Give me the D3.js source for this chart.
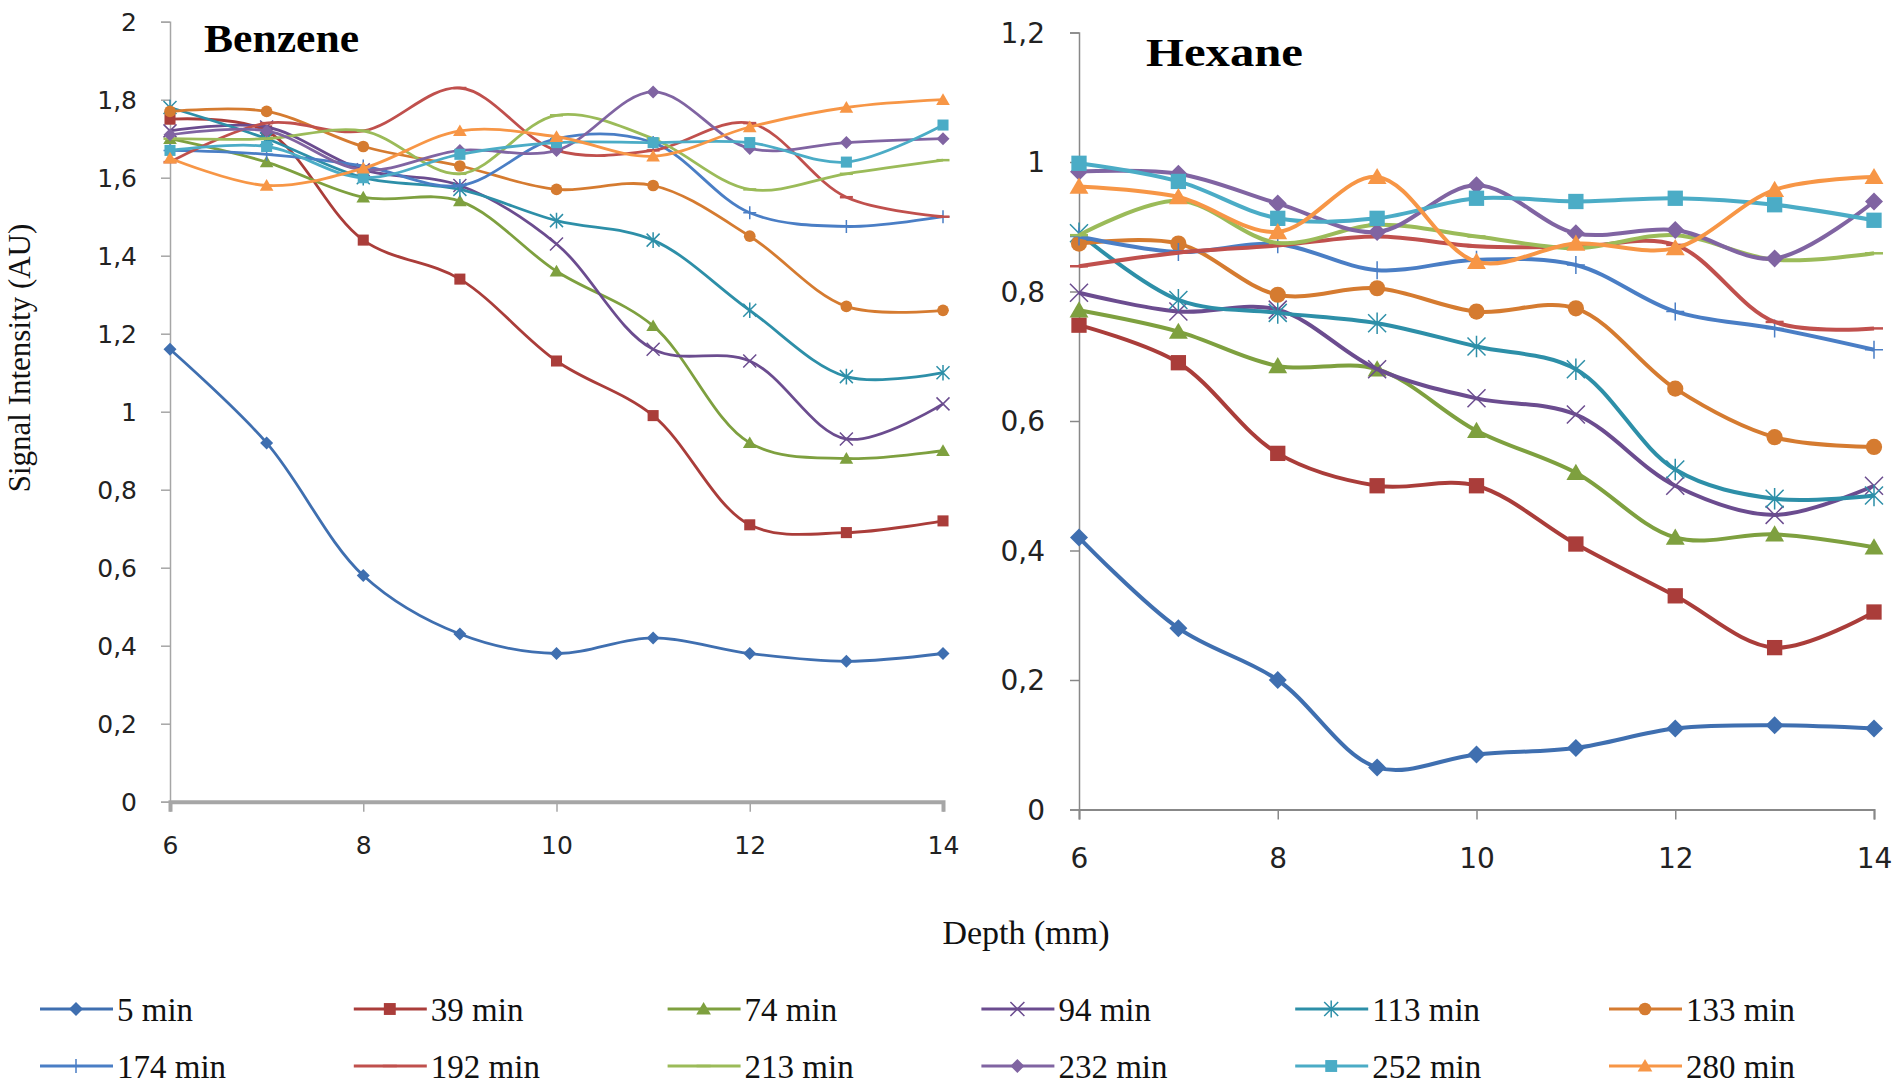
<!DOCTYPE html>
<html><head><meta charset="utf-8">
<script src="https://cdn.jsdelivr.net/npm/d3@7"></script>
<style>body{margin:0;background:#fff} svg{display:block}</style>
</head><body>
<svg id="chart" width="1901" height="1088"></svg>
<script>
// ---------- data ----------
const depths = [6, 7, 8, 9, 10, 11, 12, 13, 14];
const seriesNames = ["5 min","39 min","74 min","94 min","113 min","133 min","174 min","192 min","213 min","232 min","252 min","280 min"];
const seriesColors = ["#3F6FB0","#AA3D3A","#7EA03F","#6B4C8F","#2D8FA8","#D57B30","#4A7EC5","#C0504D","#9BBB59","#8064A2","#4BACC6","#F79646"];
const seriesMarkers = ["diamond","square","triangle","x","star","circle","plus","dash","dash","diamond","square","triangle"];

// Benzene
const benzene5   = [1.16, 0.92, 0.58, 0.43, 0.38, 0.42, 0.38, 0.36, 0.38];
const benzene39  = [1.75, 1.72, 1.44, 1.34, 1.13, 0.99, 0.71, 0.69, 0.72];
const benzene74  = [1.70, 1.64, 1.55, 1.54, 1.36, 1.22, 0.92, 0.88, 0.90];
const benzene94  = [1.72, 1.73, 1.62, 1.58, 1.43, 1.16, 1.13, 0.93, 1.02];
const benzene113 = [1.78, 1.70, 1.60, 1.57, 1.49, 1.44, 1.26, 1.09, 1.10];
const benzene133 = [1.77, 1.77, 1.68, 1.63, 1.57, 1.58, 1.45, 1.27, 1.26];
const benzene174 = [1.67, 1.66, 1.63, 1.58, 1.70, 1.69, 1.51, 1.475, 1.50];
const benzene192 = [1.64, 1.74, 1.72, 1.83, 1.67, 1.67, 1.74, 1.55, 1.50];
const benzene213 = [1.70, 1.70, 1.72, 1.61, 1.76, 1.70, 1.57, 1.61, 1.645];
const benzene232 = [1.71, 1.72, 1.62, 1.67, 1.67, 1.82, 1.675, 1.69, 1.70];
const benzene252 = [1.67, 1.68, 1.60, 1.66, 1.69, 1.69, 1.69, 1.64, 1.735];
const benzene280 = [1.65, 1.58, 1.624, 1.72, 1.705, 1.655, 1.73, 1.78, 1.80];
const benzeneSeries = [benzene5, benzene39, benzene74, benzene94, benzene113, benzene133,
                       benzene174, benzene192, benzene213, benzene232, benzene252, benzene280];

// Hexane
const hexane5   = [0.42, 0.28, 0.20, 0.065, 0.085, 0.095, 0.125, 0.13, 0.125];
const hexane39  = [0.748, 0.69, 0.55, 0.50, 0.50, 0.41, 0.33, 0.25, 0.305];
const hexane74  = [0.771, 0.738, 0.685, 0.68, 0.585, 0.52, 0.42, 0.425, 0.405];
const hexane94  = [0.798, 0.769, 0.772, 0.68, 0.635, 0.61, 0.50, 0.455, 0.50];
const hexane113 = [0.89, 0.787, 0.767, 0.751, 0.715, 0.68, 0.525, 0.48, 0.485];
const hexane133 = [0.874, 0.874, 0.795, 0.805, 0.769, 0.774, 0.65, 0.575, 0.56];
const hexane174 = [0.885, 0.861, 0.873, 0.833, 0.849, 0.841, 0.769, 0.743, 0.71];
const hexane192 = [0.839, 0.86, 0.871, 0.885, 0.870, 0.869, 0.872, 0.753, 0.743];
const hexane213 = [0.887, 0.94, 0.875, 0.903, 0.885, 0.867, 0.887, 0.849, 0.859];
const hexane232 = [0.985, 0.982, 0.936, 0.892, 0.964, 0.89, 0.895, 0.851, 0.939];
const hexane252 = [0.998, 0.97, 0.913, 0.913, 0.944, 0.939, 0.944, 0.934, 0.91];
const hexane280 = [0.962, 0.946, 0.892, 0.977, 0.846, 0.874, 0.867, 0.957, 0.977];
const hexaneSeries = [hexane5, hexane39, hexane74, hexane94, hexane113, hexane133,
                      hexane174, hexane192, hexane213, hexane232, hexane252, hexane280];

const xTickValues = [6, 8, 10, 12, 14];
const xTickLabels = ["6", "8", "10", "12", "14"];
const benzeneYTicks = [0, 0.2, 0.4, 0.6, 0.8, 1, 1.2, 1.4, 1.6, 1.8, 2];
const benzeneYLabels = ["0","0,2","0,4","0,6","0,8","1","1,2","1,4","1,6","1,8","2"];
const hexaneYTicks = [0, 0.2, 0.4, 0.6, 0.8, 1, 1.2];
const hexaneYLabels = ["0","0,2","0,4","0,6","0,8","1","1,2"];

// ---------- drawing ----------
const svg = d3.select("#chart");

function drawMarker(g, type, x, y, s, color) {
  const m = g.append("g").attr("transform", `translate(${x},${y})`);
  switch (type) {
    case "diamond":
      m.append("path").attr("d", `M0,${-s}L${s},0L0,${s}L${-s},0Z`).attr("fill", color);
      break;
    case "square":
      m.append("rect").attr("x", -s*0.85).attr("y", -s*0.85).attr("width", s*1.7).attr("height", s*1.7).attr("fill", color);
      break;
    case "triangle":
      m.append("path").attr("d", `M0,${-s}L${s*1.05},${s*0.8}L${-s*1.05},${s*0.8}Z`).attr("fill", color);
      break;
    case "circle":
      m.append("circle").attr("r", s*0.9).attr("fill", color);
      break;
    case "x":
      m.append("path").attr("d", `M${-s},${-s}L${s},${s}M${-s},${s}L${s},${-s}`).attr("stroke", color).attr("stroke-width", 1.5).attr("fill", "none");
      break;
    case "star":
      m.append("path").attr("d", `M${-s},${-s}L${s},${s}M${-s},${s}L${s},${-s}M0,${-s*1.2}L0,${s*1.2}`).attr("stroke", color).attr("stroke-width", 1.5).attr("fill", "none");
      break;
    case "plus":
      m.append("path").attr("d", `M${-s},0L${s},0M0,${-s}L0,${s}`).attr("stroke", color).attr("stroke-width", 1.5).attr("fill", "none");
      break;
    case "dash":
      m.append("path").attr("d", `M${-s},0L${s},0`).attr("stroke", color).attr("stroke-width", 2.5).attr("fill", "none");
      break;
  }
}

function drawPanel(opts) {
  const { series, xRange, yRange, yMax, yTicks, yLabels, lineW, markerS, title, titleX, titleY, titleW,
          axisColor, xAxisW, labelSize, labelYX, labelXY } = opts;
  const x = d3.scaleLinear().domain([6, 14]).range(xRange);
  const y = d3.scaleLinear().domain([0, yMax]).range(yRange);
  const g = svg.append("g");

  // y axis
  const ya = d3.axisLeft(y).tickValues(yTicks).tickFormat((d, i) => yLabels[i]).tickSize(9).tickPadding(0);
  const yag = g.append("g").attr("transform", `translate(${xRange[0]},0)`).call(ya);
  yag.select(".domain").attr("stroke", axisColor).attr("stroke-width", 1.5);
  yag.selectAll(".tick line").attr("stroke", axisColor).attr("stroke-width", 1.5);
  yag.selectAll(".tick text").attr("x", -labelYX).attr("dy", "0.35em")
     .attr("font-family", "DejaVu Sans, Verdana, sans-serif").attr("font-size", labelSize).attr("fill", "#222");

  // x axis
  const xa = d3.axisBottom(x).tickValues(xTickValues).tickFormat((d, i) => xTickLabels[i]).tickSize(10).tickPadding(0);
  const xag = g.append("g").attr("transform", `translate(0,${yRange[0]})`).call(xa);
  xag.select(".domain").attr("stroke", axisColor).attr("stroke-width", xAxisW);
  xag.selectAll(".tick line").attr("stroke", axisColor).attr("stroke-width", 1.5);
  xag.selectAll(".tick text").attr("y", labelXY).attr("dy", "0.35em")
     .attr("font-family", "DejaVu Sans, Verdana, sans-serif").attr("font-size", labelSize).attr("fill", "#222");

  // lines
  const line = d3.line().x((d, i) => x(depths[i])).y(d => y(d)).curve(d3.curveCatmullRom.alpha(0.5));
  series.forEach((vals, si) => {
    const sg = g.append("g");
    sg.append("path").attr("d", line(vals)).attr("fill", "none")
      .attr("stroke", seriesColors[si]).attr("stroke-width", lineW).attr("stroke-linejoin", "round");
    vals.forEach((v, i) => drawMarker(sg, seriesMarkers[si], x(depths[i]), y(v), markerS, seriesColors[si]));
  });

  g.append("text").attr("x", titleX).attr("y", titleY).text(title)
    .attr("textLength", titleW).attr("lengthAdjust", "spacingAndGlyphs")
    .attr("font-family", "Liberation Serif, Times New Roman, serif").attr("font-weight", "bold")
    .attr("font-size", 41).attr("fill", "#000");
}

drawPanel({
  series: benzeneSeries, xRange: [170, 943], yRange: [801.7, 21.7], yMax: 2,
  yTicks: benzeneYTicks, yLabels: benzeneYLabels, lineW: 2.8, markerS: 6.5,
  title: "Benzene", titleX: 204, titleY: 52, titleW: 155, axisColor: "#a6a6a6", xAxisW: 4,
  labelSize: 25, labelYX: 33, labelXY: 44
});

drawPanel({
  series: hexaneSeries, xRange: [1079, 1874], yRange: [809.5, 32.5], yMax: 1.2,
  yTicks: hexaneYTicks, yLabels: hexaneYLabels, lineW: 4, markerS: 9,
  title: "Hexane", titleX: 1146, titleY: 66, titleW: 157, axisColor: "#888888", xAxisW: 2,
  labelSize: 28, labelYX: 34, labelXY: 49
});

// axis titles
svg.append("text").attr("transform", "translate(30,358) rotate(-90)").attr("text-anchor", "middle")
  .text("Signal Intensity (AU)").attr("font-family", "Liberation Serif, Times New Roman, serif")
  .attr("font-size", 31).attr("fill", "#111");
svg.append("text").attr("x", 1026).attr("y", 944).attr("text-anchor", "middle")
  .text("Depth (mm)").attr("font-family", "Liberation Serif, Times New Roman, serif")
  .attr("font-size", 34).attr("fill", "#111");

// legend
const legendCols = 6;
const legendX = d3.scalePoint().domain(d3.range(legendCols)).range([40, 1609]);
const legendY = d3.scalePoint().domain([0, 1]).range([1009, 1066]);
seriesNames.forEach((name, i) => {
  const col = i % legendCols, row = Math.floor(i / legendCols);
  const lx = legendX(col), ly = legendY(row);
  const lg = svg.append("g");
  lg.append("line").attr("x1", lx).attr("x2", lx + 73).attr("y1", ly).attr("y2", ly)
    .attr("stroke", seriesColors[i]).attr("stroke-width", 3);
  drawMarker(lg, seriesMarkers[i], lx + 36, ly, 7, seriesColors[i]);
  lg.append("text").attr("x", lx + 77).attr("y", ly).attr("dy", "0.35em").text(name)
    .attr("font-family", "Liberation Serif, Times New Roman, serif").attr("font-size", 33).attr("fill", "#111");
});
</script>
</body></html>
